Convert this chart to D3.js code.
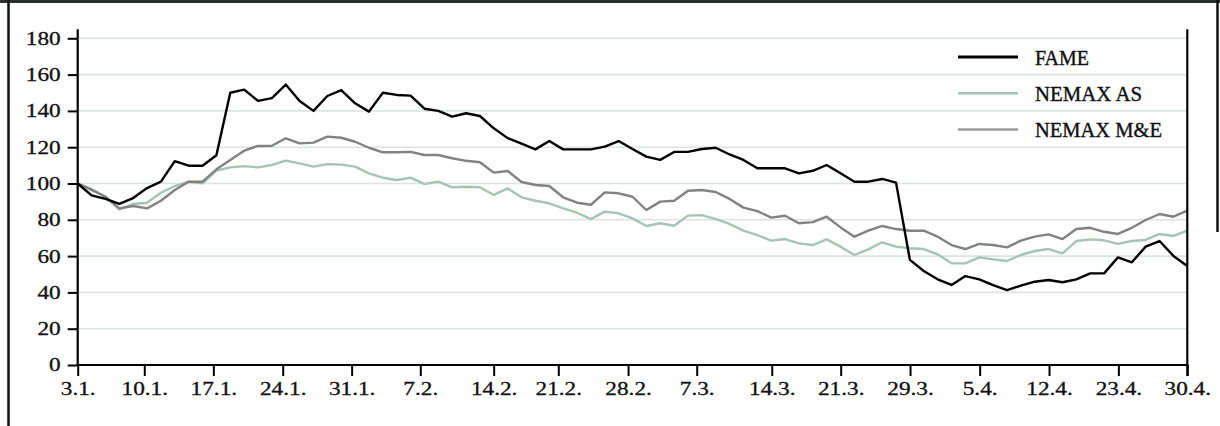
<!DOCTYPE html>
<html>
<head>
<meta charset="utf-8">
<script src="https://cdn.jsdelivr.net/npm/d3@7"></script>
<style>
  html, body { margin: 0; padding: 0; background: #fff; }
  svg { display: block; }
  text { font-family: "Liberation Serif", serif; fill: #111; }
</style>
</head>
<body>
<svg id="chart" width="1220" height="426"></svg>
<script>
// ---- data (trading-day index 0..80) ----
const tickLabels = ["3.1.","10.1.","17.1.","24.1.","31.1.","7.2.","14.2.","21.2.","28.2.","7.3.","14.3.","21.3.","29.3.","5.4.","12.4.","23.4.","30.4."];
const tickIndex  = [0, 4.8, 9.78, 14.78, 19.75, 24.7, 29.99, 34.65, 39.68, 44.63, 50.04, 55.01, 60.01, 65.03, 70.03, 75.03, 80];
const yTicks = [0, 20, 40, 60, 80, 100, 120, 140, 160, 180];
const seriesNames = ["FAME", "NEMAX AS", "NEMAX M&E"];

const fame = [100,93.5,91.5,88.8,92,97.5,101,112.3,109.8,109.8,115.6,150,151.7,145.5,147,154.5,145.5,140,148.2,151.5,
  144.2,139.6,150,148.8,148.4,141.2,140,136.8,138.7,137.2,130.4,125,122,118.8,123.4,118.8,118.8,118.8,120.3,123.4,
  119,114.8,113,117.4,117.4,119,119.7,116,113,108.4,108.4,108.4,105.6,107,110.2,105.6,101,101,102.5,100.5,
  57.9,51.8,47.2,44.1,49,47.2,44,41.3,43.7,45.9,46.8,45.6,47.2,50.5,50.5,59.3,56.6,65.2,68.3,60.1,54.5];

const nemaxAS = [100,97,92.7,85.8,88.7,89.4,94.9,98.6,101,100.1,107.1,108.9,109.6,108.9,110.2,112.6,111.1,109.3,110.7,110.4,
  109.3,105.6,103.2,101.9,103.2,99.7,101,97.9,98.2,97.9,93.7,97.3,92.4,90.5,89.1,86.3,83.9,80.4,84.5,83.6,
  80.8,76.6,78.1,76.7,82.3,82.6,80.4,77.7,74,71.6,68.5,69.4,67,66.1,69.2,65.2,60.6,63.7,67.6,65.2,
  64.3,63.9,61,56,56,59.3,58.2,57.3,60.6,62.8,63.9,61.5,68.3,69.2,68.7,66.7,68.3,68.9,72.2,71.1,74];

const nemaxME = [100,96.5,92.7,86.3,87.6,86.3,90.5,96.4,101,101,107.8,113,118.1,120.7,120.8,124.9,122.1,122.5,125.8,125.2,
  123,119.7,117.2,117.2,117.4,115.7,115.7,113.9,112.5,111.7,106,106.9,100.8,99.2,98.6,92.4,89.4,88.3,95.1,94.6,
  92.7,85.4,90,90.5,96,96.4,95.3,91.5,86.7,84.8,81.2,82.2,78.1,78.7,81.7,75.8,70.7,74,76.6,74.9,
  74,74,70.7,66.1,63.9,66.7,66.1,64.8,68.5,70.7,72,69.4,74.9,75.6,73.4,72.2,75.6,79.9,83.2,81.7,85];

// ---- drawing ----
const svg = d3.select("#chart");
const colors = ["#000000", "#a6c4b4", "#828282"];
const seriesData = [fame, nemaxAS, nemaxME];

const x = d3.scaleLinear().domain([0, fame.length - 1]).range([77.7, 1187.3]);
const y = d3.scaleLinear().domain([0, 180]).range([365, 38.3]);

function widen(sel, f) {
  sel.each(function () {
    const w = this.getComputedTextLength();
    d3.select(this).attr("textLength", w * f).attr("lengthAdjust", "spacingAndGlyphs");
  });
}

// outer frame
svg.append("line").attr("x1", 0).attr("x2", 1220).attr("y1", 1.5).attr("y2", 1.5)
  .attr("stroke", "#2a302d").attr("stroke-width", 3);
svg.append("line").attr("x1", 8.5).attr("x2", 8.5).attr("y1", 0).attr("y2", 426)
  .attr("stroke", "#111").attr("stroke-width", 2.5);
svg.append("line").attr("x1", 1217.5).attr("x2", 1217.5).attr("y1", 0).attr("y2", 232)
  .attr("stroke", "#111").attr("stroke-width", 2.5);

// gridlines
svg.append("g").selectAll("line").data(yTicks.filter(d => d > 0)).join("line")
  .attr("x1", x(0)).attr("x2", x(80))
  .attr("y1", d => y(d)).attr("y2", d => y(d))
  .attr("stroke", "#dbe5e0").attr("stroke-width", 1.6);

// series lines
const line = d3.line().x((d, i) => x(i)).y(d => y(d));
[1, 2, 0].forEach(k => {
  svg.append("path").datum(seriesData[k])
    .attr("fill", "none").attr("stroke", colors[k]).attr("stroke-width", 2.4)
    .attr("stroke-linejoin", "round").attr("d", line);
});

// y axis
const yAxis = svg.append("g").attr("transform", `translate(${x(0)},0)`)
  .call(d3.axisLeft(y).tickValues(yTicks).tickSize(10).tickPadding(7));
yAxis.select(".domain").remove();
yAxis.selectAll(".tick line").attr("stroke", "#000").attr("stroke-width", 2);
yAxis.selectAll(".tick text").attr("font-size", 18.6)
  .attr("font-family", "Liberation Serif").attr("fill", "#111")
  .attr("stroke", "#111").attr("stroke-width", 0.3);
widen(yAxis.selectAll(".tick text"), 1.25);
svg.append("line").attr("x1", x(0)).attr("x2", x(0)).attr("y1", y(0)).attr("y2", y(185))
  .attr("stroke", "#000").attr("stroke-width", 2.2);

// x axis
const xAxis = svg.append("g").attr("transform", `translate(0,${y(0)})`)
  .call(d3.axisBottom(x).tickValues(tickIndex).tickFormat((d, i) => tickLabels[i]).tickSize(11).tickPadding(6));
xAxis.select(".domain").remove();
xAxis.selectAll(".tick line").attr("stroke", "#000").attr("stroke-width", 2);
xAxis.selectAll(".tick text").attr("font-size", 18.6)
  .attr("font-family", "Liberation Serif").attr("fill", "#111")
  .attr("stroke", "#111").attr("stroke-width", 0.3);
widen(xAxis.selectAll(".tick text"), 1.25);
svg.append("line").attr("x1", x(0) - 1).attr("x2", x(80) + 1).attr("y1", y(0)).attr("y2", y(0))
  .attr("stroke", "#000").attr("stroke-width", 2.2);

// right frame line
svg.append("line").attr("x1", x(80)).attr("x2", x(80)).attr("y1", y(185)).attr("y2", y(0) + 11)
  .attr("stroke", "#000").attr("stroke-width", 2.2);

// legend
const legendY = [170, 150, 130];
const legendW = [54, 107, 127];
const lg = svg.append("g");
seriesNames.forEach((name, k) => {
  const yy = y(legendY[k]) + 0.5;
  lg.append("line").attr("x1", 958).attr("x2", 1018).attr("y1", yy).attr("y2", yy)
    .attr("stroke", colors[k]).attr("stroke-width", k === 0 ? 3 : 2.6)
    .attr("stroke-opacity", k === 2 ? 0.8 : 1);
  lg.append("text").attr("x", 1035).attr("y", yy + 7.8)
    .attr("font-size", 22).attr("textLength", legendW[k]).attr("lengthAdjust", "spacingAndGlyphs")
    .attr("stroke", "#111").attr("stroke-width", 0.4)
    .text(name);
});
</script>
</body>
</html>
